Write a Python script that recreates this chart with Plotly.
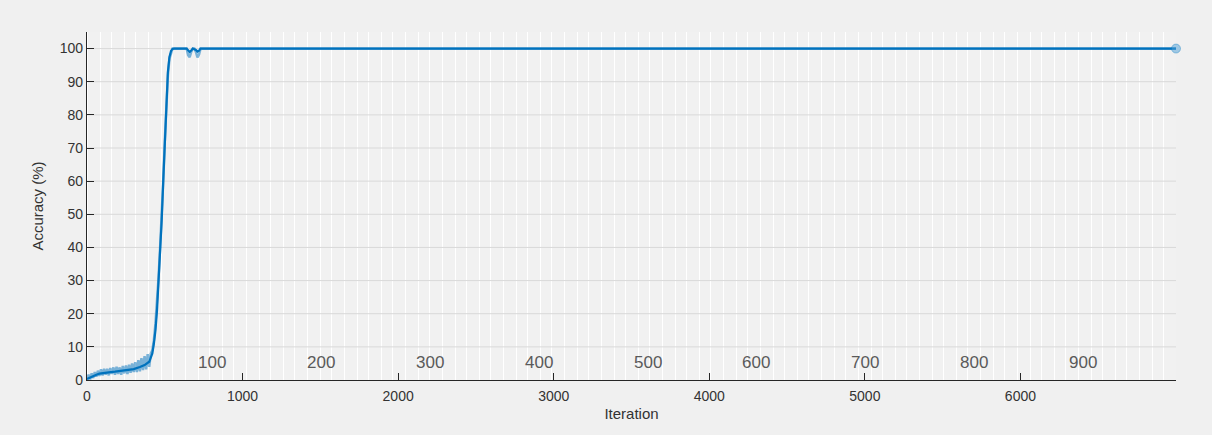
import plotly.graph_objects as go

# ---------------- data ----------------
ITERS_PER_EPOCH = 7
N_EPOCHS = 1000
MAX_ITER = 7000

raw_iter = list(range(0, 810, 10)) + [MAX_ITER]
raw_acc = [0.0, 1.6, 0.2, 2.0, 0.6, 2.4, 1.0, 2.8, 1.2, 3.2,
           1.4, 3.4, 1.6, 3.4, 1.4, 3.6, 1.8, 3.8, 1.6, 4.0,
           1.8, 3.8, 1.6, 4.2, 2.0, 4.4, 1.8, 4.6, 2.2, 5.0,
           2.4, 5.4, 2.4, 6.0, 2.6, 6.6, 3.0, 7.2, 3.2, 7.8,
           4.0, 8.0, 9.0, 12.0, 17.0, 23.0, 31.0, 40.0, 49.0, 60.0,
           72.0, 84.0, 92.0, 97.0, 99.0, 100.0, 100.0, 100.0, 100.0, 100.0,
           100.0, 100.0, 100.0, 100.0, 100.0, 98.0, 97.4, 99.0, 100.0, 100.0,
           99.0, 97.3, 98.2, 100.0, 100.0, 100.0, 100.0, 100.0, 100.0, 100.0,
           100.0, 100.0]

smooth_iter = [0, 20, 40, 60, 80, 100, 140, 180, 220, 260, 300, 340, 370,
               400, 410, 420, 430, 440, 450, 460, 470, 480, 490, 500, 510,
               520, 530, 540, 550, 560, 640, 650, 660, 670, 680, 700, 710,
               720, 730, MAX_ITER]
smooth_acc = [0.3, 0.8, 1.2, 1.6, 1.9, 2.1, 2.3, 2.5, 2.7, 2.9, 3.3, 3.9, 4.5,
              5.5, 6.5, 8.0, 11.0, 15.0, 21.0, 29.0, 38.0, 48.0, 60.0, 73.0, 85.0,
              93.0, 97.5, 99.3, 99.9, 100.0, 100.0, 99.4, 99.0, 99.4, 100.0, 99.6, 99.1,
              99.4, 100.0, 100.0]

final_iter = [MAX_ITER]
final_acc = [100.0]

epoch_labels = [100, 200, 300, 400, 500, 600, 700, 800, 900]
y_ticks = list(range(0, 101, 10))
x_ticks = list(range(0, 7000, 1000))

Y_MAX = 105
BLUE = "#0072BD"

fig = go.Figure()

# alternating epoch shading
shade_x = [(e + 0.5) * ITERS_PER_EPOCH for e in range(1, N_EPOCHS, 2)]
fig.add_trace(go.Bar(x=shade_x, y=[Y_MAX] * len(shade_x), width=ITERS_PER_EPOCH,
                     marker=dict(color="#f1f1f1", line=dict(width=0)),
                     hoverinfo="skip", showlegend=False))

# horizontal grid lines drawn over the shading
gx, gy = [], []
for t in y_ticks[1:]:
    gx += [0, MAX_ITER, None]
    gy += [t, t, None]
fig.add_trace(go.Scatter(x=gx, y=gy, mode="lines",
                         line=dict(color="#d9d9d9", width=1),
                         hoverinfo="skip", showlegend=False))

# raw accuracy
fig.add_trace(go.Scatter(x=raw_iter, y=raw_acc, mode="lines",
                         line=dict(color="rgba(0,114,189,0.5)", width=2.5),
                         showlegend=False))
# smoothed accuracy
fig.add_trace(go.Scatter(x=smooth_iter, y=smooth_acc, mode="lines",
                         line=dict(color=BLUE, width=2.2),
                         showlegend=False))
# final marker
fig.add_trace(go.Scatter(x=final_iter, y=final_acc, mode="markers", cliponaxis=False,
                         marker=dict(color="rgba(77,160,216,0.5)", size=9,
                                     line=dict(color="rgba(0,114,189,0.35)", width=1)),
                         showlegend=False))

for e in epoch_labels:
    fig.add_annotation(x=e * ITERS_PER_EPOCH, y=5.3, text=str(e),
                       xanchor="left", yanchor="middle", showarrow=False,
                       font=dict(family="Liberation Sans, Arial, sans-serif",
                                 size=17, color="#5a5a5a"))

fig.update_layout(
    width=1212, height=435,
    margin=dict(l=87, r=36, t=32, b=55),
    paper_bgcolor="#f0f0f0",
    plot_bgcolor="#ffffff",
    bargap=0,
    font=dict(family="Liberation Sans, Arial, sans-serif", size=14, color="#333333"),
    xaxis=dict(range=[0, MAX_ITER], tickvals=x_ticks, showgrid=False, zeroline=False,
               showline=True, linecolor="#262626", linewidth=1.2,
               ticks="inside", ticklen=7, tickcolor="#262626", ticklabelstandoff=3,
               title=dict(text="Iteration", standoff=5, font=dict(size=15, color="#333333")),
               tickfont=dict(size=14, color="#333333")),
    yaxis=dict(range=[0, Y_MAX], tickvals=y_ticks, showgrid=False, zeroline=False,
               showline=True, linecolor="#262626", linewidth=1.2,
               ticks="inside", ticklen=7, tickcolor="#262626",
               title=dict(text="Accuracy (%)", standoff=12, font=dict(size=15, color="#333333")),
               tickfont=dict(size=14, color="#333333")),
)

fig.write_html("out.html", config={"displayModeBar": False},
               post_script="document.body.style.margin='0';"
                           "document.body.style.background='#f0f0f0';")
